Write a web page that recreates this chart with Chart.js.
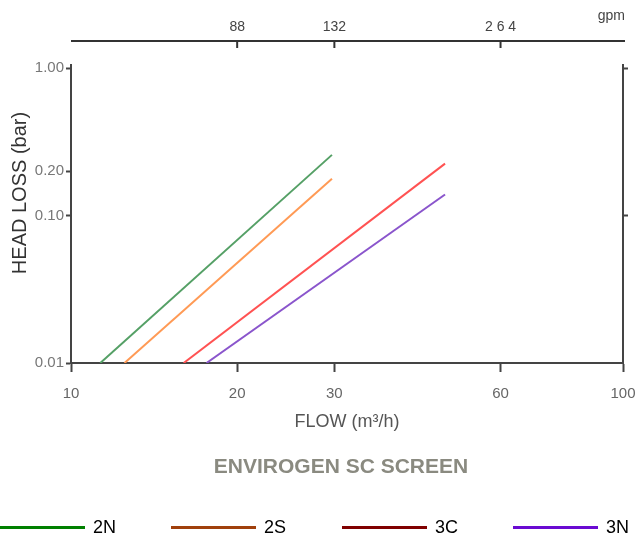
<!DOCTYPE html>
<html>
<head>
<meta charset="utf-8">
<script src="https://cdn.jsdelivr.net/npm/chart.js@4.4.0/dist/chart.umd.min.js"></script>
<style>
  html, body { margin: 0; padding: 0; background: #fff; }
  #wrap { position: relative; width: 637px; height: 541px; overflow: hidden; font-family: 'Liberation Sans', Arial, sans-serif; }
  #chart { position: absolute; left: 0; top: 0; }
  #titulo { position: absolute; left: 0; width: 682px; top: 454px; text-align: center; font-weight: bold; font-size: 21px; color: #8a8a80; }
  #leyenda { position: absolute; left: 0; top: 517px; display: flex; }
  .item { width: 171px; display: flex; align-items: center; }
  .item .linea { display: inline-block; width: 85px; height: 3px; margin-right: 8px; }
  .item .txt { font-size: 18px; color: #000; }
</style>
</head>
<body>
<div id="wrap">
  <canvas id="chart" width="637" height="541"></canvas>
  <div id="titulo">ENVIROGEN SC SCREEN</div>
  <div id="leyenda"></div>
</div>
<script>
// ticks
const flowTicks = [10, 20, 30, 60, 100];
const headTicks = [0.01, 0.1, 0.2, 1];
const headTicksRight = [0.1, 1];
const gpmTicks = [20, 30, 60];      // m3/h where the gpm marks sit
const gpmLabels = ['88', '132', '2 6 4'];

// series (start / end of each straight line, m3/h and bar)
const seriesNames = ['2N', '2S', '3C', '3N'];
const flow2N = [11.3, 29.7];
const head2N = [0.01, 0.258];
const flow2S = [12.5, 29.7];
const head2S = [0.01, 0.178];
const flow3C = [16.0, 47.6];
const head3C = [0.01, 0.225];
const flow3N = [17.6, 47.6];
const head3N = [0.01, 0.139];

const lineColors = ['#55a066', '#ff9a55', '#ff5252', '#8a55cc'];
const legendColors = ['#008000', '#a0400c', '#800000', '#6a0ad2'];

const flows = [flow2N, flow2S, flow3C, flow3N];
const heads = [head2N, head2S, head3C, head3N];

Chart.defaults.font.family = "'Liberation Sans', Arial, sans-serif";

// eje superior en gpm + titulo del eje Y
const ejeGpm = {
    id: 'ejeGpm',
    afterDraw(chart) {
        const ctx = chart.ctx;
        const x = chart.scales.x;
        const yLinea = 41;
        ctx.save();
        ctx.strokeStyle = '#333';
        ctx.lineWidth = 2;
        ctx.beginPath();
        ctx.moveTo(x.left, yLinea);
        ctx.lineTo(x.right + 2, yLinea);
        ctx.stroke();
        ctx.fillStyle = '#444';
        ctx.font = "14px 'Liberation Sans', Arial, sans-serif";
        ctx.textAlign = 'center';
        ctx.textBaseline = 'middle';
        gpmTicks.forEach((f, i) => {
            const px = x.getPixelForValue(f);
            ctx.beginPath();
            ctx.moveTo(px, yLinea);
            ctx.lineTo(px, yLinea + 7);
            ctx.stroke();
            ctx.fillText(gpmLabels[i], px, 27);
        });
        ctx.textAlign = 'right';
        ctx.fillText('gpm', x.right + 2, 16);

        // HEAD LOSS (bar)
        ctx.translate(20, 193);
        ctx.rotate(-Math.PI / 2);
        ctx.textAlign = 'center';
        ctx.fillStyle = '#333';
        ctx.font = "20px 'Liberation Sans', Arial, sans-serif";
        ctx.fillText('HEAD LOSS (bar)', 0, 0);
        ctx.restore();
    }
};

const tickFont = { size: 15 };
const gridBase = { drawOnChartArea: false, drawTicks: true, tickColor: '#444', tickWidth: 2 };
const borderBase = { color: '#444', width: 2 };

new Chart(document.getElementById('chart'), {
    type: 'line',
    data: {
        datasets: seriesNames.map((n, i) => ({
            label: n,
            data: flows[i].map((f, j) => ({ x: f, y: heads[i][j] })),
            borderColor: lineColors[i],
            borderWidth: 2,
            pointRadius: 0,
            fill: false,
            yAxisID: 'y'
        }))
    },
    options: {
        responsive: false,
        animation: false,
        layout: { padding: { top: 65, left: 0, right: 0, bottom: 108 } },
        plugins: { legend: { display: false }, title: { display: false }, tooltip: { enabled: false } },
        scales: {
            x: {
                type: 'logarithmic', min: 10, max: 100, bounds: 'data',
                afterBuildTicks: s => { s.ticks = flowTicks.map(v => ({ value: v })); },
                ticks: { callback: v => String(v), font: tickFont, color: '#666', padding: 13, maxRotation: 0, autoSkip: false },
                grid: { ...gridBase, tickLength: 9 },
                border: borderBase,
                title: { display: true, text: 'FLOW (m³/h)', font: { size: 18 }, color: '#555', padding: { top: 0, bottom: 0 } },
                afterFit: s => { s.height = 70; s.paddingLeft = 0; s.paddingRight = 0; }
            },
            y: {
                type: 'logarithmic', position: 'left', min: 0.01, max: 1.05, bounds: 'data',
                afterBuildTicks: s => { s.ticks = headTicks.map(v => ({ value: v })); },
                ticks: { callback: v => v.toFixed(2), font: tickFont, color: '#777', padding: 2, autoSkip: false },
                grid: { ...gridBase, tickLength: 5 },
                border: borderBase,
                afterFit: s => { s.width = 71; s.paddingTop = 0; s.paddingBottom = 0; }
            },
            y2: {
                type: 'logarithmic', position: 'right', min: 0.01, max: 1.05, bounds: 'data',
                afterBuildTicks: s => { s.ticks = headTicksRight.map(v => ({ value: v })); },
                ticks: { callback: () => '', autoSkip: false },
                grid: { ...gridBase, tickLength: 5 },
                border: borderBase,
                afterFit: s => { s.width = 14; s.paddingTop = 0; s.paddingBottom = 0; }
            }
        }
    },
    plugins: [ejeGpm]
});

// leyenda
const leyenda = document.getElementById('leyenda');
seriesNames.forEach((n, i) => {
    leyenda.innerHTML += `<div class="item"><span class="linea" style="background:${legendColors[i]}"></span><span class="txt">${n}</span></div>`;
});
</script>
</body>
</html>
